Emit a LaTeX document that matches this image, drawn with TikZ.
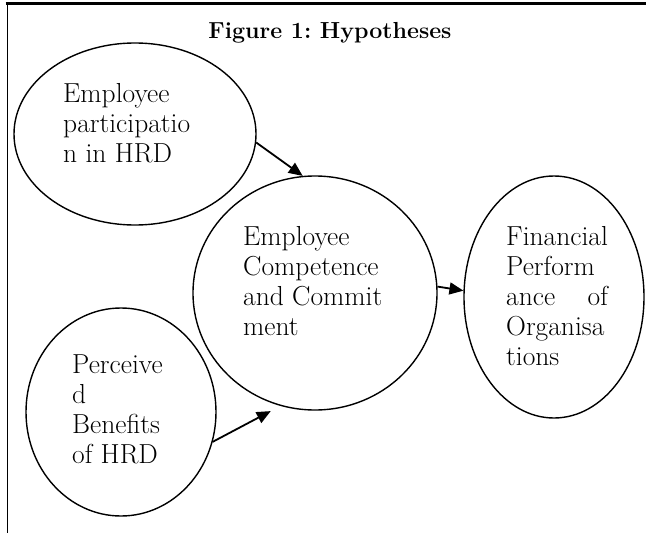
\documentclass[tikz,border=0pt]{standalone}
\usetikzlibrary{shapes.geometric,arrows.meta}
\begin{document}
\begin{tikzpicture}[x=1pt,y=-1pt,
  ell/.style={draw, line width=1.4pt, ellipse, inner sep=0pt},
  lbl/.style={anchor=base west, inner sep=0pt, font=\fontsize{27.5}{30}\selectfont},
  arr/.style={line width=1.8pt, -{Triangle[length=14pt,width=12pt]}}]
\useasboundingbox (0,0) rectangle (646,533);
% frame
\draw[line width=2.5pt] (5.5,3.5) -- (646,3.5);
\draw[line width=1.5pt] (7.25,3) -- (7.25,533);
% title
\node[anchor=base, inner sep=0pt, font=\fontsize{23.2}{27}\selectfont\bfseries] (title) at (330,38) {Figure 1:\ Hypotheses};
% ellipses
\node[ell, minimum width=242pt, minimum height=182pt] (A) at (135,134) {};
\node[ell, minimum width=244pt, minimum height=234pt] (B) at (315,293) {};
\node[ell, minimum width=180pt, minimum height=242pt] (C) at (554,297) {};
\node[ell, minimum width=190pt, minimum height=208pt] (D) at (121,412) {};
% texts
\node[lbl] (tA) at (63,102) {\begin{tabular}[t]{@{}l@{}}Employee\\participatio\\n in HRD\end{tabular}};
\node[lbl] (tB) at (243,245) {\begin{tabular}[t]{@{}l@{}}Employee\\Competence\\and Commit\\ment\end{tabular}};
\node[lbl] (tC) at (506,245) {\begin{tabular}[t]{@{}l@{}}Financial\\Perform\\ance\hfill of\\Organisa\\tions\end{tabular}};
\node[lbl] (tD) at (72,373) {\begin{tabular}[t]{@{}l@{}}Perceive\\d\\Benefits\\of HRD\end{tabular}};
% arrows
\draw[arr] (A.-4) -- (B.96);
\draw[arr] (B.3) -- (C.176);
\draw[arr, shorten >=11pt] (D.-18) -- (B.253.6);
\end{tikzpicture}
\end{document}
